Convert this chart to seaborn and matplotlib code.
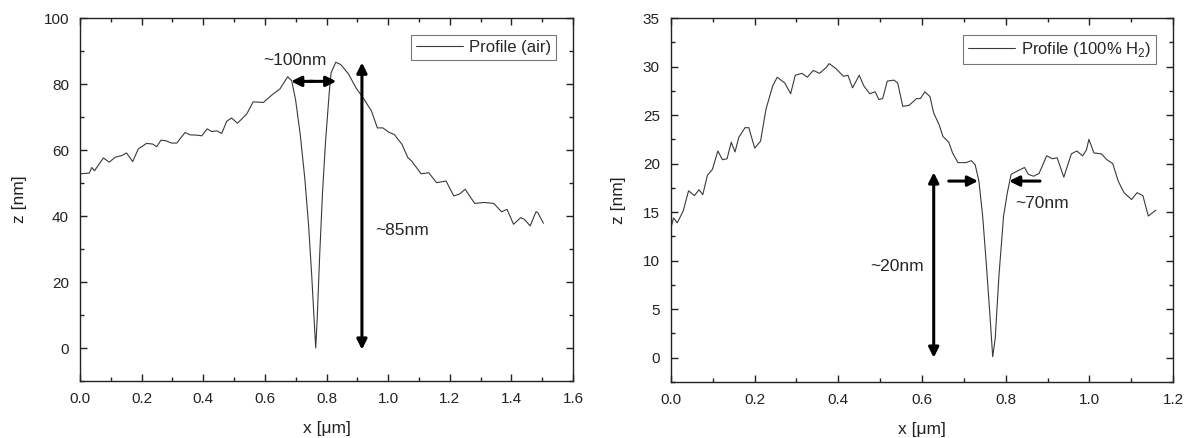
import numpy as np
import pandas as pd
import matplotlib
matplotlib.use('Agg')
import matplotlib.pyplot as plt
from matplotlib.ticker import MultipleLocator
import seaborn as sns

# profile in air (x in um, z in nm)
x_air = [0.0, 0.030, 0.038, 0.047, 0.076, 0.095, 0.114, 0.135, 0.151, 0.171,
         0.189, 0.216, 0.236, 0.249, 0.263, 0.279, 0.297, 0.314, 0.341, 0.357,
         0.379, 0.395, 0.413, 0.427, 0.444, 0.460, 0.476, 0.492, 0.511, 0.541,
         0.562, 0.595, 0.627, 0.649, 0.674, 0.687, 0.700, 0.715, 0.730, 0.742,
         0.752, 0.760, 0.765, 0.770, 0.778, 0.787, 0.797, 0.809, 0.815, 0.830, 0.846,
         0.871, 0.896, 0.921, 0.946, 0.965, 0.983, 1.002, 1.020, 1.045, 1.064,
         1.076, 1.107, 1.132, 1.157, 1.188, 1.213, 1.231, 1.250, 1.281, 1.312,
         1.343, 1.368, 1.386, 1.407, 1.430, 1.442, 1.461, 1.480, 1.486, 1.504]
z_air = [52.8, 53.0, 54.7, 53.7, 57.6, 56.3, 57.8, 58.3, 59.1, 56.5,
         60.3, 62.0, 61.8, 61.0, 63.0, 62.8, 62.1, 62.1, 65.3, 64.6,
         64.5, 64.3, 66.4, 65.6, 65.8, 65.0, 68.7, 69.7, 68.1, 70.9,
         74.6, 74.4, 77.0, 78.5, 82.2, 81.0, 75.0, 64.5, 51.0, 37.0,
         22.0, 8.3, 0.0, 9.3, 28.4, 47.0, 62.7, 77.5, 83.4, 86.6, 85.9,
         83.1, 78.8, 75.5, 71.8, 66.7, 66.7, 65.4, 64.7, 61.7, 57.7,
         56.7, 52.8, 53.1, 50.1, 50.6, 46.1, 46.6, 48.1, 43.8, 44.1,
         43.8, 41.3, 42.0, 37.5, 39.5, 39.0, 37.0, 41.3, 41.0, 37.8]

# profile in 100% H2
x_h2 = [0.0, 0.006, 0.015, 0.029, 0.042, 0.056, 0.067, 0.076, 0.087, 0.099,
        0.112, 0.123, 0.134, 0.144, 0.153, 0.162, 0.177, 0.186, 0.200, 0.214,
        0.227, 0.243, 0.254, 0.272, 0.286, 0.297, 0.313, 0.326, 0.340, 0.355,
        0.371, 0.378, 0.394, 0.412, 0.423, 0.434, 0.450, 0.461, 0.475, 0.488,
        0.497, 0.506, 0.517, 0.533, 0.542, 0.554, 0.569, 0.587, 0.596, 0.607,
        0.619, 0.628, 0.641, 0.650, 0.664, 0.673, 0.686, 0.705, 0.718, 0.727,
        0.736, 0.745, 0.754, 0.763, 0.769, 0.775, 0.784, 0.795, 0.804, 0.813,
        0.831, 0.845, 0.854, 0.867, 0.880, 0.898, 0.912, 0.923, 0.939, 0.957,
        0.970, 0.984, 0.993, 0.999, 1.011, 1.029, 1.042, 1.056, 1.069, 1.083,
        1.101, 1.114, 1.128, 1.141, 1.150, 1.159]
z_h2 = [13.4, 14.4, 13.9, 15.1, 17.2, 16.7, 17.3, 16.8, 18.8, 19.4,
        21.3, 20.4, 20.5, 22.2, 21.2, 22.7, 23.7, 23.7, 21.6, 22.3,
        25.6, 28.0, 28.9, 28.3, 27.2, 29.1, 29.3, 28.9, 29.6, 29.3,
        29.9, 30.3, 29.8, 29.0, 29.1, 27.8, 29.1, 28.0, 27.2, 27.4,
        26.6, 26.7, 28.5, 28.6, 28.3, 25.9, 26.0, 26.7, 26.7, 27.4,
        26.9, 25.2, 24.0, 22.8, 22.2, 21.1, 20.1, 20.1, 20.3, 19.9,
        18.2, 14.6, 9.5, 4.0, 0.1, 2.0, 8.5, 14.6, 17.0, 18.9,
        19.3, 19.6, 18.9, 18.7, 19.0, 20.8, 20.5, 20.6, 18.6, 21.0,
        21.3, 20.8, 21.4, 22.5, 21.1, 21.0, 20.4, 20.0, 18.2, 17.0,
        16.3, 17.0, 16.7, 14.6, 14.9, 15.2]

df_air = pd.DataFrame({'x': x_air, 'z': z_air})
df_h2 = pd.DataFrame({'x': x_h2, 'z': z_h2})

sns.set_theme(style='ticks')
plt.rcParams['font.family'] = ['Liberation Sans', 'DejaVu Sans']
plt.rcParams['mathtext.fontset'] = 'custom'
plt.rcParams['mathtext.rm'] = 'Liberation Sans'

fig = plt.figure(figsize=(11.91, 4.38), dpi=100)
ax1 = fig.add_axes([80 / 1191, 1 - 381 / 438, 493 / 1191, 363 / 438])
ax2 = fig.add_axes([671 / 1191, 1 - 382 / 438, 502 / 1191, 364 / 438])

line_col = '#3a3a3a'
sns.lineplot(data=df_air, x='x', y='z', ax=ax1, color=line_col, lw=0.8,
             sort=False, label='Profile (air)')
sns.lineplot(data=df_h2, x='x', y='z', ax=ax2, color=line_col, lw=0.8,
             sort=False, label='Profile (100% H$_2$)')

def style_axis(ax, xlim, ylim, xmaj, ymaj):
    ax.set_xlim(*xlim)
    ax.set_ylim(*ylim)
    ax.xaxis.set_major_locator(MultipleLocator(xmaj))
    ax.xaxis.set_minor_locator(MultipleLocator(xmaj / 2))
    ax.yaxis.set_major_locator(MultipleLocator(ymaj))
    ax.yaxis.set_minor_locator(MultipleLocator(ymaj / 2))
    ax.tick_params(which='both', direction='in', top=True, right=True,
                   width=1.0, color='#222222', labelsize=11, labelcolor='#222222')
    ax.tick_params(which='major', length=5, pad=8)
    ax.tick_params(which='minor', length=3)
    for s in ax.spines.values():
        s.set_linewidth(1.0)
        s.set_color('#222222')
    ax.set_xlabel('x [μm]', fontsize=12.5, labelpad=11, color='#222222')
    ax.set_ylabel('z [nm]', fontsize=12.5, labelpad=12, color='#222222')
    leg = ax.legend(loc='upper right', fontsize=12, frameon=True, fancybox=False,
                    edgecolor='#777777', framealpha=1, handlelength=2.8,
                    borderaxespad=1.0, borderpad=0.3, handletextpad=0.4)
    leg.get_frame().set_linewidth(0.8)

style_axis(ax1, (0, 1.6), (-10, 100), 0.2, 20)
style_axis(ax2, (0, 1.2), (-2.5, 35), 0.2, 5)
ax1.xaxis.set_major_formatter(lambda v, p: f'{v:.1f}')
ax2.xaxis.set_major_formatter(lambda v, p: f'{v:.1f}')

arw = dict(arrowstyle='<|-|>', color='black', lw=2.2, mutation_scale=15,
           shrinkA=0, shrinkB=0)
one = dict(arrowstyle='-|>', color='black', lw=2.2, mutation_scale=15,
           shrinkA=0, shrinkB=0)

# air panel annotations
ax1.annotate('', xy=(0.685, 80.8), xytext=(0.755, 80.8), arrowprops=one)
ax1.annotate('', xy=(0.832, 80.8), xytext=(0.745, 80.8), arrowprops=one)
ax1.annotate('', xy=(0.915, 86.5), xytext=(0.915, -0.5), arrowprops=arw)
ax1.text(0.697, 87.0, '~100nm', ha='center', va='center', fontsize=12.5)
ax1.text(0.958, 35.5, '~85nm', ha='left', va='center', fontsize=12.5)

# H2 panel annotations
ax2.annotate('', xy=(0.628, 19.1), xytext=(0.628, 0.0), arrowprops=arw)
ax2.annotate('', xy=(0.734, 18.2), xytext=(0.664, 18.2), arrowprops=one)
ax2.annotate('', xy=(0.808, 18.2), xytext=(0.882, 18.2), arrowprops=one)
ax2.text(0.604, 9.4, '~20nm', ha='right', va='center', fontsize=12.5)
ax2.text(0.824, 15.9, '~70nm', ha='left', va='center', fontsize=12.5)

fig.savefig('out.png', dpi=100)
